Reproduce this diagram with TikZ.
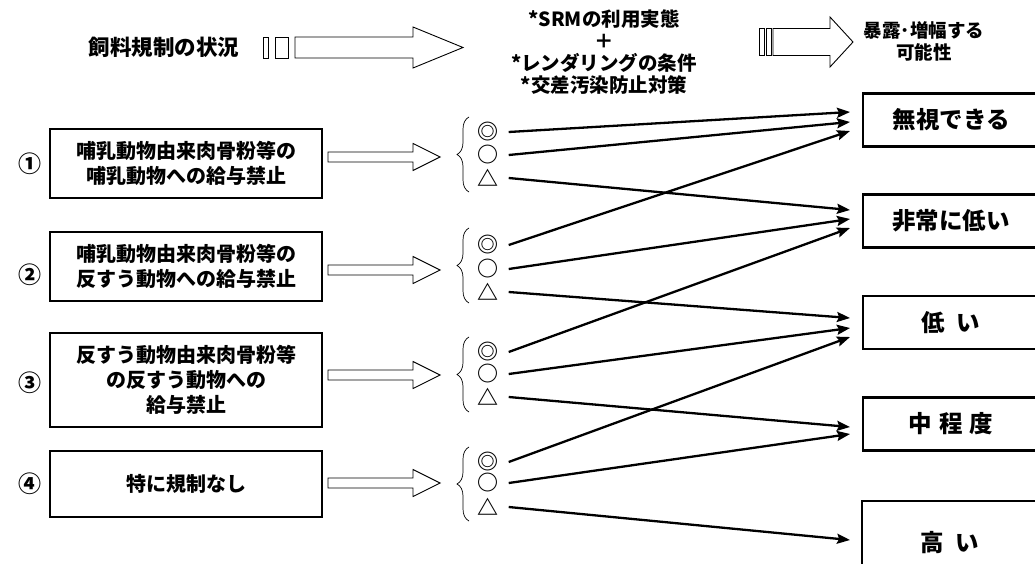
\documentclass[tikz,border=0pt]{standalone}
\usepackage{fontspec}
\setmainfont{Noto Sans CJK JP}
\usetikzlibrary{arrows.meta,decorations.pathreplacing}
\newcommand\HArrow[6]{%
  \draw[hollow] ({#1},{#2-#4}) -- ({#3-#6},{#2-#4}) -- ({#3-#6},{#2-#5}) -- ({#3},{#2})
    -- ({#3-#6},{#2+#5}) -- ({#3-#6},{#2+#4}) -- ({#1},{#2+#4}) -- cycle;}
\begin{document}
\begin{tikzpicture}[x=1pt,y=-1pt,
  lbox/.style={draw, line width=2.2pt, minimum width=272pt, align=center,
    font=\fontsize{20}{25}\selectfont\bfseries, inner sep=0pt},
  rbox/.style={draw, line width=2.2pt, minimum width=176pt, minimum height=53pt,
    font=\fontsize{23.5}{26}\selectfont\bfseries, inner sep=0pt, anchor=west},
  num/.style={font=\fontsize{23}{23}\selectfont\bfseries, inner sep=0pt},
  sym/.style={font=\fontsize{21}{21}\selectfont\bfseries, inner sep=0pt},
  conn/.style={line width=2.3pt, -{Stealth[length=13pt,width=10pt,inset=2pt]}},
  hollow/.style={draw, line width=0.9pt, fill=white},
  brc/.style={decorate, decoration={brace, amplitude=12pt}, line width=0.7pt},
]
\useasboundingbox (0,0) rectangle (1035,564);
\clip (0,0) rectangle (1035,564);

% top row
\node[font=\fontsize{21.5}{21}\selectfont\bfseries] (t1) at (164,47) {飼料規制の状況};
\draw[hollow] (263,37) rectangle (268,58);
\draw[hollow] (275,37) rectangle (288,58);
\HArrow{295}{47.5}{463}{10.5}{20.5}{50}
\node[font=\fontsize{19.5}{22}\selectfont\bfseries, align=center, inner sep=0pt] (t2) at (604,52)
  {*SRMの利用実態\\＋\\*レンダリングの条件\\*交差汚染防止対策};
\draw[hollow] (759,28) rectangle (764,55);
\draw[hollow] (766,28) rectangle (771,55);
\HArrow{773}{42}{853}{13.5}{25}{23}
\node[font=\fontsize{18.5}{22}\selectfont\bfseries, align=center, inner sep=0pt] (t3) at (924,41)
  {暴露･増幅する\\可能性};

% left boxes
\node[num] (n1) at (30,164) {①};
\node[num] (n2) at (30,275) {②};
\node[num] (n3) at (30,383) {③};
\node[num] (n4) at (30,484) {④};
\node[lbox, minimum height=69pt] (b1) at (186,163.5) {哺乳動物由来肉骨粉等の\\哺乳動物への給与禁止};
\node[lbox, minimum height=69pt] (b2) at (186,266.5) {哺乳動物由来肉骨粉等の\\反すう動物への給与禁止};
\node[lbox, minimum height=94pt] (b3) at (186,380) {反すう動物由来肉骨粉等\\の反すう動物への\\給与禁止};
\node[lbox, minimum height=66pt] (b4) at (186,484) {特に規制なし};

\HArrow{328}{157}{440}{5}{13.5}{27}
\HArrow{328}{270}{440}{5}{13.5}{27}
\HArrow{328}{375}{440}{5}{13.5}{27}
\HArrow{328}{483}{440}{5}{13.5}{27}

% braces
\draw[brc] (469,192) -- (469,117);
\draw[brc] (469,303) -- (469,228);
\draw[brc] (469,412) -- (469,337);
\draw[brc] (469,521) -- (469,447);

% symbols
\node[sym] (s1a) at (488,132) {◎};
\node[sym] (s1b) at (488,155) {○};
\node[sym] (s1c) at (488,178) {△};
\node[sym] (s2a) at (488,245) {◎};
\node[sym] (s2b) at (488,269) {○};
\node[sym] (s2c) at (488,292) {△};
\node[sym] (s3a) at (488,352) {◎};
\node[sym] (s3b) at (488,374) {○};
\node[sym] (s3c) at (488,397) {△};
\node[sym] (s4a) at (488,462) {◎};
\node[sym] (s4b) at (488,483) {○};
\node[sym] (s4c) at (488,507) {△};

% right boxes
\node[rbox] (r1) at (862,120) {無視できる};
\node[rbox] (r2) at (862,221) {非常に低い};
\node[rbox] (r3) at (862,322.5) {低\hspace{0.5em}い};
\node[rbox] (r4) at (862,424) {中\hspace{0.3em}程\hspace{0.3em}度};
\draw[line width=2.2pt] (862,590) |- (1045,501);
\node[font=\fontsize{23.5}{26}\selectfont\bfseries, inner sep=0pt] (r5) at (950,543) {高\hspace{0.5em}い};

% arrow ends
\coordinate (e1a) at (850,112);
\coordinate (e1b) at (850,122);
\coordinate (e1c) at (850,210);
\coordinate (e2a) at (850,131);
\coordinate (e2b) at (850,219);
\coordinate (e2c) at (850,318);
\coordinate (e3a) at (850,228);
\coordinate (e3b) at (850,328);
\coordinate (e3c) at (850,427);
\coordinate (e4a) at (850,337);
\coordinate (e4b) at (850,434);
\coordinate (e4c) at (850,540);

\foreach \g in {1,2,3,4}{
  \foreach \k in {a,b,c}{
    \draw[conn] ([xshift=10pt]s\g\k.east) -- (e\g\k);
  }
}
\end{tikzpicture}
\end{document}
